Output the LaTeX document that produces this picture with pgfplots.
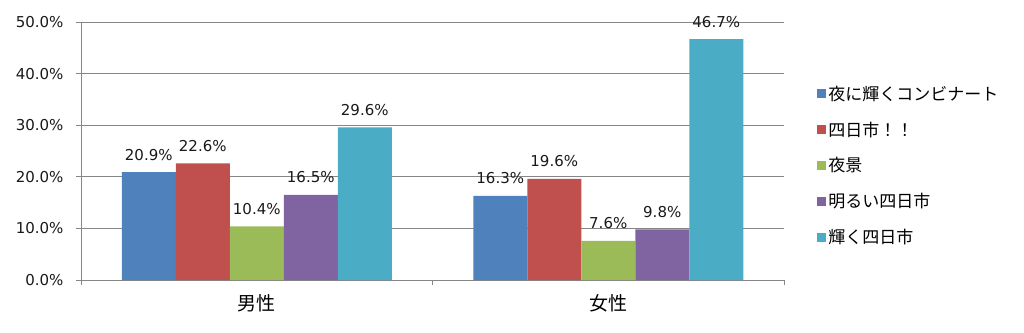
\documentclass[border=0pt]{standalone}
\usepackage{pgfplots}
\pgfplotsset{compat=1.18}
\usepackage{fontspec}
\setmainfont{DejaVu Sans}
\newfontfamily\jp{Noto Sans CJK JP}
\definecolor{cA}{HTML}{4F81BD}
\definecolor{cB}{HTML}{C0504D}
\definecolor{cC}{HTML}{9BBB59}
\definecolor{cD}{HTML}{8064A2}
\definecolor{cE}{HTML}{4BACC6}
\definecolor{gridc}{HTML}{868686}
\begin{document}
\begin{tikzpicture}
\useasboundingbox (0,0) rectangle (1024pt,332pt);
\begin{axis}[
  at={(81pt,52pt)}, anchor=south west,
  width=703pt, height=258pt, scale only axis,
  xmin=-0.5, xmax=1.5, ymin=0, ymax=50,
  ybar=0pt, bar width=54pt,
  axis lines=left, axis line style={-, draw=gridc, line width=1pt},
  tick align=outside, major tick length=5pt,
  tick style={draw=gridc, line width=1pt},
  ytick={0,10,20,30,40,50},
  yticklabel={\pgfmathprintnumber[fixed,fixed zerofill,precision=1]{\tick}\%},
  /pgf/number format/assume math mode=true,
  yticklabel style={font=\fontsize{15}{17}\selectfont, text=black!90, xshift=-9pt},
  ymajorgrids, grid style={draw=gridc, line width=1pt},
  xtick={-0.5,0.5,1.5}, xticklabels={},
  extra x ticks={0,1}, extra x tick labels={\jp 男性,\jp 女性},
  extra x tick style={major tick length=0pt, grid=none,
     xticklabel style={font=\fontsize{19}{21}\selectfont, text=black, yshift=-11pt}},
  nodes near coords={\pgfmathprintnumber[fixed,fixed zerofill,precision=1]{\pgfplotspointmeta}\%},
  every node near coord/.append style={font=\fontsize{15}{17}\selectfont, text=black!90, anchor=base, yshift=12pt},
  legend style={draw=none, fill=none, at={(1.047,0.444)}, anchor=west,
     font=\jp\fontsize{17}{19}\selectfont, row sep=16pt, inner sep=0pt},
  legend cell align=left,
  legend image code/.code={\fill[#1] (0pt,-4.5pt) rectangle (9pt,4.5pt);},
]
\addplot[fill=cA, draw=none] coordinates {(0,20.9) (1,16.3)};
\addplot[fill=cB, draw=none] coordinates {(0,22.6) (1,19.6)};
\addplot[fill=cC, draw=none] coordinates {(0,10.4) (1,7.6)};
\addplot[fill=cD, draw=none] coordinates {(0,16.5) (1,9.8)};
\addplot[fill=cE, draw=none] coordinates {(0,29.6) (1,46.7)};
\legend{夜に輝くコンビナート,四日市！！,夜景,明るい四日市,輝く四日市}
\end{axis}
\end{tikzpicture}
\end{document}
